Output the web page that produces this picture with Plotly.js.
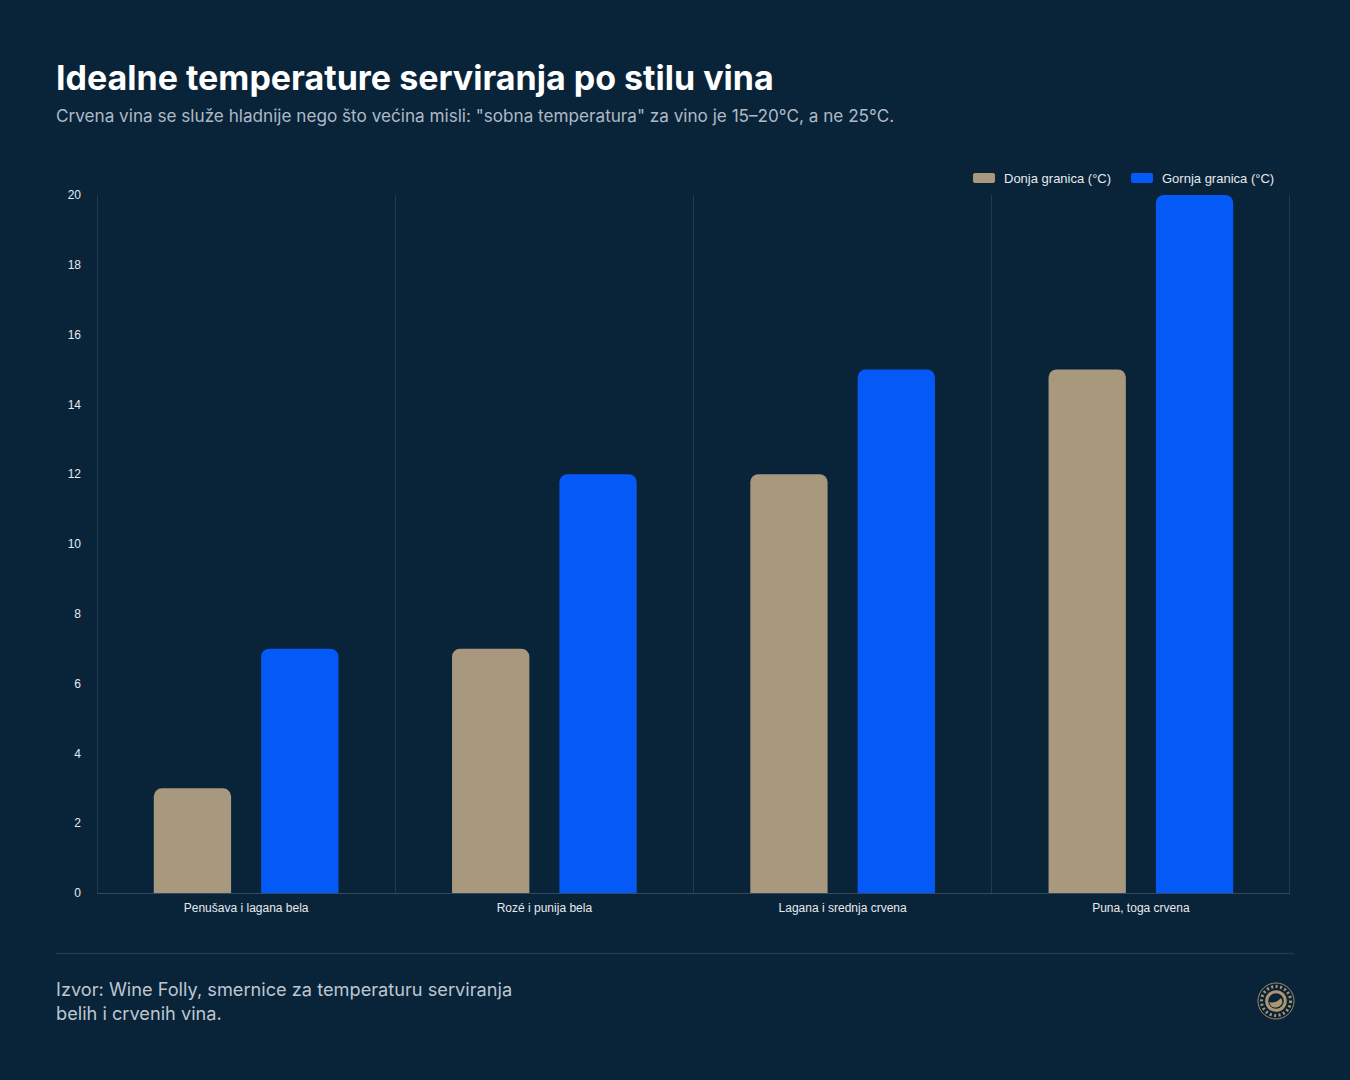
<!DOCTYPE html>
<html><head><meta charset="utf-8">
<script src="https://cdn.plot.ly/plotly-3.0.1.min.js"></script>
<style>html,body{margin:0;padding:0;background:#092339;overflow:hidden}</style>
</head><body><div id="chart" style="width:1350px;height:1080px"></div>
<script>
const categories = ["Penušava i lagana bela","Rozé i punija bela","Lagana i srednja crvena","Puna, toga crvena"];
const lowerValues = [3,7,12,15];
const upperValues = [7,12,15,20];
const lowerName = "Donja granica (°C)";
const upperName = "Gornja granica (°C)";
const titleText = "Idealne temperature serviranja po stilu vina";
const subtitleText = 'Crvena vina se služe hladnije nego što većina misli: "sobna temperatura" za vino je 15–20°C, a ne 25°C.';
const sourceText = "Izvor: Wine Folly, smernice za temperaturu serviranja<br>belih i crvenih vina.";
const W=1350,H=1080;
const L=97,R=1290,T=195,B=893;
const px=x=>(x-L)/(R-L), py=y=>(B-y)/(B-T);
const bg="#092339", tan="#a8987e", blue="#0559f6", grid="#1f3a51";
const logoTan="#ae9670";
const inter="Inter, sans-serif", arial="'Liberation Sans', Arial, sans-serif";
const traces=[
 {type:"bar",name:lowerName,x:categories,y:lowerValues,marker:{color:tan,line:{width:0}},hoverinfo:"x+y"},
 {type:"bar",name:upperName,x:categories,y:upperValues,marker:{color:blue,line:{width:0}},hoverinfo:"x+y"}
];
const logoX=1276,logoY=1001;
const circle=(r,extra)=>Object.assign({type:"circle",xref:"paper",yref:"paper",xsizemode:"pixel",ysizemode:"pixel",xanchor:px(logoX),yanchor:py(logoY),x0:-r,x1:r,y0:-r,y1:r},extra);
const vline=x=>({type:"line",xref:"paper",yref:"paper",x0:px(x),x1:px(x),y0:0,y1:1,line:{color:grid,width:1}});
const layout={
 width:W,height:H,paper_bgcolor:bg,plot_bgcolor:bg,
 margin:{l:L,r:W-R,t:T,b:H-B,pad:0},
 barmode:"group",bargap:0.28,bargroupgap:0.28,barcornerradius:8,
 title:{text:"<b>"+titleText+"</b>",font:{family:inter,size:34,color:"#ffffff"},x:56/W,xanchor:"left",xref:"container",y:1-78/H,yanchor:"middle",yref:"container"},
 font:{family:arial,color:"#e6eaee"},
 showlegend:true,
 legend:{orientation:"h",x:1280/W,xanchor:"right",y:1-178/H,yanchor:"middle",bgcolor:"rgba(0,0,0,0)",font:{family:arial,size:13,color:"#e6eaee"},traceorder:"normal",itemwidth:30,entrywidth:113,entrywidthmode:"pixels",xref:"container",yref:"container"},
 xaxis:{type:"category",tickson:"boundaries",showgrid:true,gridcolor:grid,gridwidth:1,showline:true,linecolor:"#34495f",linewidth:1,ticks:"",tickfont:{family:arial,size:12,color:"#e6eaee"},zeroline:false,fixedrange:true,ticklabelstandoff:4},
 yaxis:{range:[0,20],dtick:2,tick0:0,showgrid:false,zeroline:false,showline:false,ticks:"",tickfont:{family:arial,size:12,color:"#e6eaee"},fixedrange:true,ticklabelstandoff:15},
 annotations:[
  {xref:"paper",yref:"paper",x:px(56),y:py(116),xanchor:"left",yanchor:"middle",text:subtitleText,showarrow:false,align:"left",xshift:-2,font:{family:inter,size:17.15,weight:400,color:"#aebac6"}},
  {xref:"paper",yref:"paper",x:px(56),y:py(1001),xanchor:"left",yanchor:"middle",text:sourceText,showarrow:false,align:"left",xshift:-2,font:{family:inter,size:18.2,weight:400,color:"#bdc7d0"}}
 ],
 shapes:[
  vline(97.5),vline(1289.5),
  {type:"line",xref:"paper",yref:"paper",x0:px(56),x1:px(1294),y0:py(953.5),y1:py(953.5),line:{color:grid,width:1.5}},
  circle(18,{line:{color:logoTan,width:0.9}}),
  circle(14.5,{line:{color:logoTan,width:3,dash:"2px,2.5px"}}),
  circle(9.3,{line:{color:logoTan,width:3}}),
  {type:"path",xref:"paper",yref:"paper",xsizemode:"pixel",ysizemode:"pixel",xanchor:px(logoX),yanchor:py(logoY),path:"M -7 -1 Q -1 -3 5 3 Q 8 -2 4 -5 Q -1 -8 -5 -5 Z",fillcolor:logoTan,line:{width:0}}
 ]
};
const gd=document.getElementById("chart");
Plotly.newPlot(gd,traces,layout,{displayModeBar:false,responsive:false}).then(()=>{
 gd.querySelectorAll(".legend .legendpoints path").forEach(p=>{
  p.setAttribute("d","M-9,-5H9A2,2 0 0 1 11,-3V3A2,2 0 0 1 9,5H-9A2,2 0 0 1 -11,3V-3A2,2 0 0 1 -9,-5Z");
 });
});
</script></body></html>
